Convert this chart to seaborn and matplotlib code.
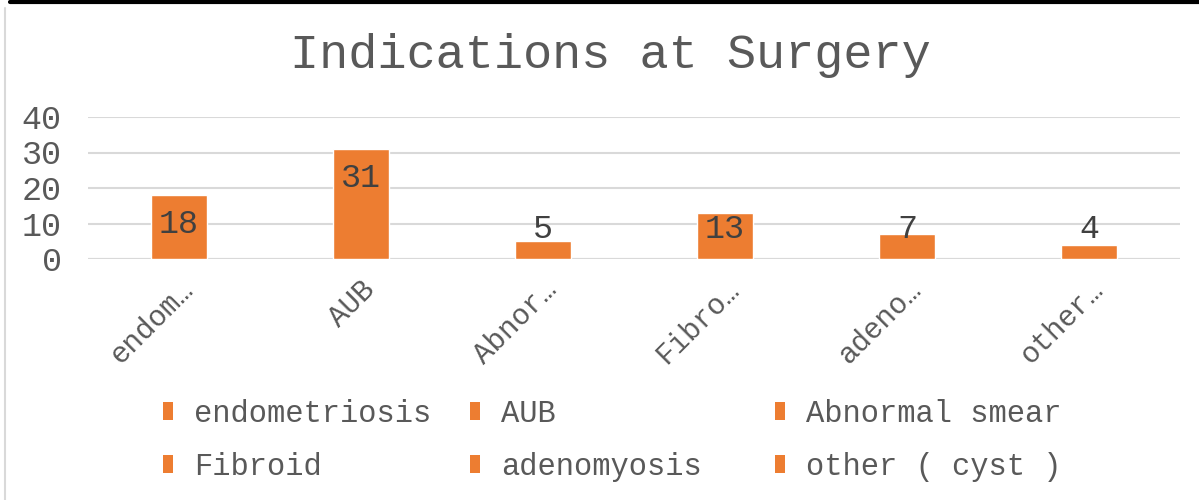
import matplotlib
matplotlib.use("Agg")
import matplotlib.pyplot as plt
import seaborn as sns
import pandas as pd
from matplotlib.lines import Line2D
from matplotlib.patches import Patch

# data
categories = ['endometriosis', 'AUB', 'Abnormal smear', 'Fibroid', 'adenomyosis', 'other ( cyst )']
tick_labels = ['endom…', 'AUB', 'Abnor…', 'Fibro…', 'adeno…', 'other…']
counts = [18, 31, 5, 13, 7, 4]

orange = '#ED7D31'
grey = '#595959'

sns.set_style('white')
plt.rcParams['font.family'] = ['Liberation Mono', 'DejaVu Sans Mono']

df = pd.DataFrame({'cat': categories, 'n': counts})

fig = plt.figure(figsize=(11.99, 5.0), dpi=100)
ax = fig.add_axes([88/1199, 1 - 259/500, (1180 - 88)/1199, (259 - 117)/500])

sns.barplot(data=df, x='cat', y='n', hue='cat', palette=[orange]*6,
            width=0.31, dodge=False, legend=False, ax=ax, saturation=1)

ax.set_ylim(0, 40)
ax.set_xlim(-0.5, 5.5)
ax.set_yticks([0, 10, 20, 30, 40])
ax.yaxis.grid(True, color='#D9D9D9', linewidth=1.5)
ax.set_axisbelow(True)
for s in ax.spines.values():
    s.set_visible(False)
ax.axhline(0, color='#D9D9D9', linewidth=1.5, zorder=0.5)

ax.set_xlabel('')
ax.set_ylabel('')
ax.tick_params(axis='y', length=0, pad=19, labelsize=24, labelcolor=grey)
ax.tick_params(axis='x', length=0, pad=12, labelsize=21, labelcolor=grey)
ax.set_xticks(range(len(categories)))
ax.set_xticklabels(tick_labels, rotation=45, ha='right', rotation_mode='anchor')

# data labels (inside end, kept above the baseline)
for i, v in enumerate(counts):
    y = max(v - 8.2, 8.45)
    ax.text(i, y, str(v), ha='center', va='center', fontsize=24, color='#404040')

fig.text(610/1199, 1 - 55/500, 'Indications at Surgery', ha='center', va='center',
         fontsize=35, color=grey)

# legend: three columns of equal width, like Excel
col_x = [163, 470, 775]
for j in range(3):
    items = [categories[j], categories[j + 3]]
    handles = [Patch(facecolor=orange, edgecolor='none') for _ in items]
    fig.legend(handles, items, loc='upper left',
               bbox_to_anchor=(col_x[j]/1199, 1 - 399/500),
               frameon=False, fontsize=22, labelcolor=grey,
               handlelength=0.33, handleheight=0.55, handletextpad=0.7,
               labelspacing=0.75, borderpad=0, borderaxespad=0)

# outer frame bits
fig.add_artist(Line2D([10/1199, 1], [1 - 2/500, 1 - 2/500], color='black', linewidth=3))
fig.add_artist(Line2D([5/1199, 5/1199], [0, 1 - 8/500], color='#D9D9D9', linewidth=1.5))

fig.savefig('out.png', dpi=100)
